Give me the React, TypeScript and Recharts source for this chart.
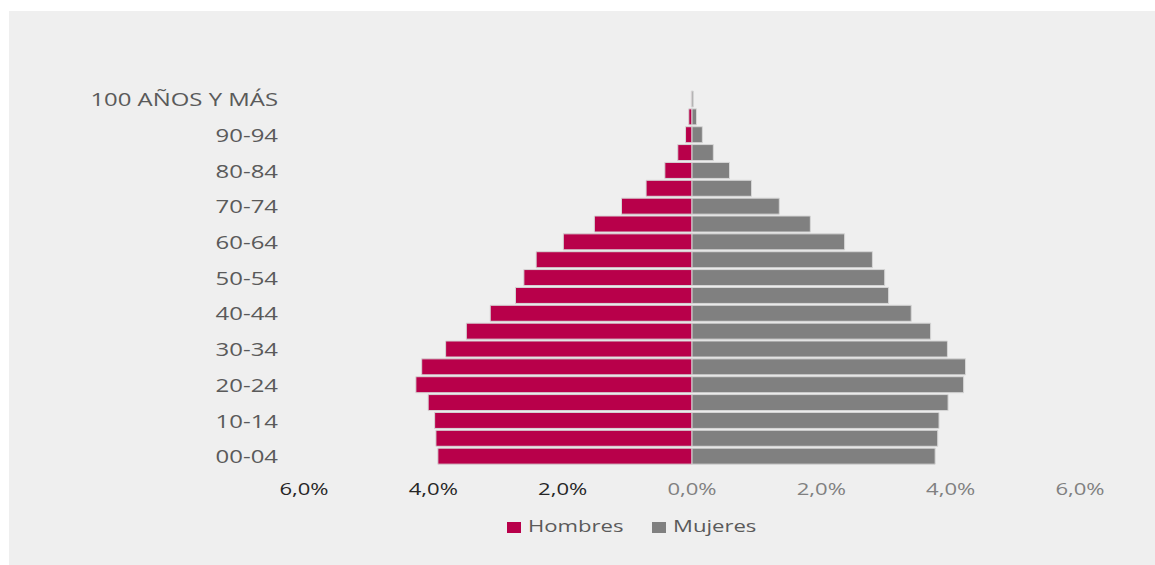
import { BarChart, Bar, XAxis, YAxis, Legend } from 'recharts'

// age groups, top of the pyramid first
const ageGroups = [
  '100 AÑOS Y MÁS',
  '95-99',
  '90-94',
  '85-89',
  '80-84',
  '75-79',
  '70-74',
  '65-69',
  '60-64',
  '55-59',
  '50-54',
  '45-49',
  '40-44',
  '35-39',
  '30-34',
  '25-29',
  '20-24',
  '15-19',
  '10-14',
  '05-09',
  '00-04',
]

// % of total population
const hombres = [
  0.01, 0.05, 0.1, 0.22, 0.42, 0.71, 1.09, 1.51, 1.99, 2.41, 2.6, 2.73, 3.12,
  3.49, 3.81, 4.18, 4.27, 4.08, 3.98, 3.96, 3.93,
]
const mujeres = [
  0.02, 0.07, 0.16, 0.33, 0.58, 0.92, 1.35, 1.83, 2.36, 2.79, 2.98, 3.04, 3.39,
  3.69, 3.95, 4.23, 4.2, 3.96, 3.82, 3.8, 3.76,
]

const xTicks = [-6, -4, -2, 0, 2, 4, 6]

const data = ageGroups.map((age, i) => ({
  age,
  Hombres: -hombres[i],
  Mujeres: mujeres[i],
}))

const FONT = '"Open Sans", sans-serif'
const STRETCH = 1.3

const fmtPct = (v: number) => Math.abs(v).toFixed(1).replace('.', ',') + '%'

const AgeTick = (props: any) => {
  const { x, y, payload } = props
  return (
    <g transform={`translate(${x},${y}) scale(1.33,1)`}>
      <text
        x={0}
        y={0}
        dy="0.4em"
        textAnchor="end"
        fill="#5a5a5a"
        fontSize={18}
        fontFamily={FONT}
      >
        {payload.value}
      </text>
    </g>
  )
}

const PctTick = (props: any) => {
  const { x, y, payload } = props
  return (
    <g transform={`translate(${x},${y}) scale(${STRETCH},1)`}>
      <text
        x={0}
        y={0}
        dy={22}
        textAnchor="middle"
        fill={payload.value < 0 ? '#262626' : '#808080'}
        fontSize={17}
        fontFamily={FONT}
      >
        {fmtPct(payload.value)}
      </text>
    </g>
  )
}

const LegendContent = (props: any) => {
  const { payload } = props
  return (
    <div style={{ position: 'relative', width: 1155, height: 30 }}>
      {(payload || []).map((entry: any, i: number) => (
        <div
          key={entry.value}
          style={{ position: 'absolute', left: 507 + i * 145, top: 0 }}
        >
          <span
            style={{
              position: 'absolute',
              left: 0,
              top: 10,
              width: 14,
              height: 11,
              background: entry.color,
            }}
          />
          <span
            style={{
              position: 'absolute',
              left: 21,
              top: 5,
              fontFamily: FONT,
              fontSize: 17,
              lineHeight: '17px',
              color: '#5a5a5a',
              whiteSpace: 'nowrap',
              transform: `scaleX(${STRETCH})`,
              transformOrigin: 'left center',
            }}
          >
            {entry.value}
          </span>
        </div>
      ))}
    </div>
  )
}

export default function App() {
  return (
    <div
      style={{
        position: 'absolute',
        left: 0,
        top: 0,
        width: 1155,
        height: 565,
        background: '#ffffff',
      }}
    >
      <div
        style={{
          position: 'absolute',
          left: 9,
          top: 11,
          right: 0,
          bottom: 0,
          background: '#efefef',
        }}
      />
      <div style={{ position: 'absolute', left: 0, top: 0 }}>
        <BarChart
          width={1155}
          height={565}
          data={data}
          layout="vertical"
          stackOffset="sign"
          barCategoryGap={1}
          margin={{ top: 90, right: 75, bottom: 70, left: 204 }}
        >
          <XAxis
            type="number"
            domain={[-6, 6]}
            ticks={xTicks}
            axisLine={false}
            tickLine={false}
            height={30}
            tick={<PctTick />}
            interval={0}
          />
          <YAxis
            type="category"
            dataKey="age"
            width={100}
            axisLine={false}
            tickLine={false}
            tickSize={6}
            tickMargin={20}
            interval={1}
            tick={<AgeTick />}
          />
          <Legend
            verticalAlign="middle"
            align="center"
            content={<LegendContent />}
            wrapperStyle={{ position: 'absolute', left: 0, top: 512, width: 1155, height: 30 }}
          />
          <Bar
            dataKey="Hombres"
            stackId="p"
            fill="#b8004a"
            stroke="#d6d6d6"
            strokeWidth={1}
            isAnimationActive={false}
          />
          <Bar
            dataKey="Mujeres"
            stackId="p"
            fill="#808080"
            stroke="#d6d6d6"
            strokeWidth={1}
            isAnimationActive={false}
          />
        </BarChart>
      </div>
    </div>
  )
}
